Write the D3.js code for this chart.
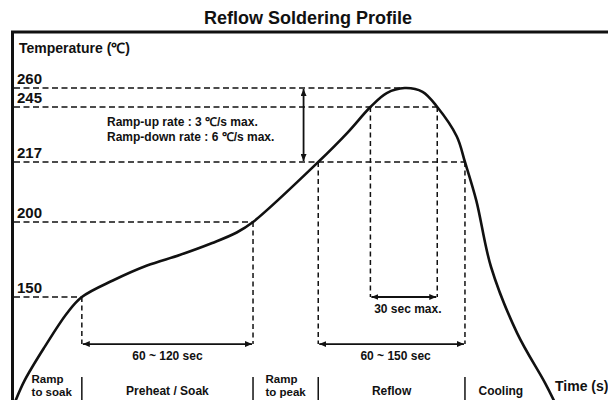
<!DOCTYPE html>
<html>
<head>
<meta charset="utf-8">
<script src="https://cdn.jsdelivr.net/npm/d3@7"></script>
<style>
    body { margin: 0; background: #fff; }
    svg text { font-family: "Liberation Sans", Arial, sans-serif; font-weight: bold; fill: #111; }
</style>
</head>
<body>
<div id="container"></div>
<script>

// Profile curve (time in s, temperature in degC).
const curveTime = [0, 6, 18, 32, 41, 60, 81, 101, 121, 136, 146, 186, 204, 218, 228, 239, 250, 259, 271, 276, 283, 292, 308, 325, 331];
const curveTemp = [25, 51, 90, 131, 150, 161, 171, 178, 186, 193, 200, 217, 232, 245, 256, 260, 257, 245, 230, 217, 206, 170, 107, 48, 25];

// Temperature marks and the time where each dashed guide meets the curve.
const tickTemps = [150, 200, 217, 245, 260];
const guideTime = [41, 146, 276, 259, 239];

// Duration arrows.
const spanStart = [41, 186, 218];
const spanEnd = [146, 276, 259];
const spanTopTemp = [150, 217, 245];
const spanTemp = [94, 94, 150];
const spanLabel = ['60 ~ 120 sec', '60 ~ 150 sec', '30 sec max.'];

// Phases along the time axis.
const phaseEdges = [4, 41, 146, 186, 276, 320];
const phaseNames = [['Ramp', 'to soak'], ['Preheat / Soak'], ['Ramp', 'to peak'], ['Reflow'], ['Cooling']];

// Ramp rate arrow.
const rateTime = 177;
const rateTemps = [260, 217];
const rateText = ['Ramp-up rate : 3 \u2103/s max.', 'Ramp-down rate : 6 \u2103/s max.'];

window.addEventListener('DOMContentLoaded', (event) => {

    const width = 608;
    const height = 400;

    const svg = d3.select('#container')
        .append('svg')
        .attr('width', width)
        .attr('height', height);

    const x = d3.scaleLinear()
        .domain([0, 330])
        .range([15, 553]);

    // The drawing is schematic, so the temperature axis is piecewise.
    const y = d3.scaleLinear()
        .domain([25, 150, 200, 217, 245, 260])
        .range([402, 297, 222, 162, 107, 88]);

    svg.append('defs')
        .append('marker')
        .attr('id', 'head')
        .attr('markerUnits', 'userSpaceOnUse')
        .attr('markerWidth', 8)
        .attr('markerHeight', 6)
        .attr('refX', 7)
        .attr('refY', 3)
        .attr('orient', 'auto-start-reverse')
        .append('path')
        .attr('d', 'M0,0 L7,3 L0,6 Z')
        .attr('fill', '#111');

    // Title.
    svg.append('text')
        .attr('x', 308)
        .attr('y', 24)
        .attr('text-anchor', 'middle')
        .style('font-size', '18px')
        .text('Reflow Soldering Profile');

    // Frame.
    svg.append('line')
        .attr('x1', 11).attr('y1', 32)
        .attr('x2', width).attr('y2', 32)
        .attr('stroke', '#111').attr('stroke-width', 3);

    svg.append('line')
        .attr('x1', 12.5).attr('y1', 31)
        .attr('x2', 12.5).attr('y2', height)
        .attr('stroke', '#111').attr('stroke-width', 3);

    svg.append('text')
        .attr('x', 19)
        .attr('y', 53)
        .style('font-size', '14px')
        .text('Temperature (\u2103)');

    // Horizontal dashed guides.
    svg.selectAll('.hguide')
        .data(tickTemps)
        .enter()
        .append('line')
        .attr('class', 'hguide')
        .attr('x1', 14)
        .attr('x2', (d, i) => x(guideTime[i]))
        .attr('y1', d => y(d))
        .attr('y2', d => y(d))
        .attr('stroke', '#111')
        .attr('stroke-width', 1.5)
        .attr('stroke-dasharray', '6,3.5');

    // Tick labels.
    const axis = svg.append('g')
        .attr('transform', 'translate(13,0)')
        .call(d3.axisRight(y).tickValues(tickTemps).tickSize(0).tickPadding(4));
    axis.select('.domain').remove();
    axis.selectAll('text')
        .attr('dy', -5)
        .style('font-size', '15px')
        .style('font-family', '"Liberation Sans", Arial, sans-serif')
        .style('fill', '#111');

    // Vertical dashed guides.
    const vguides = [];
    spanStart.forEach((s, i) => {
        vguides.push({ t: s, top: spanTopTemp[i], bottom: spanTemp[i] });
        vguides.push({ t: spanEnd[i], top: spanTopTemp[i], bottom: spanTemp[i] });
    });
    vguides[1].top = 200;
    vguides[3].top = 217;

    svg.selectAll('.vguide')
        .data(vguides)
        .enter()
        .append('line')
        .attr('class', 'vguide')
        .attr('x1', d => x(d.t))
        .attr('x2', d => x(d.t))
        .attr('y1', d => y(d.top))
        .attr('y2', d => y(d.bottom))
        .attr('stroke', '#111')
        .attr('stroke-width', 1.5)
        .attr('stroke-dasharray', '5,3.5');

    // Duration arrows and labels.
    svg.selectAll('.span')
        .data(spanLabel)
        .enter()
        .append('line')
        .attr('class', 'span')
        .attr('x1', (d, i) => x(spanStart[i]) + 1)
        .attr('x2', (d, i) => x(spanEnd[i]) - 1)
        .attr('y1', (d, i) => y(spanTemp[i]))
        .attr('y2', (d, i) => y(spanTemp[i]))
        .attr('stroke', '#111')
        .attr('stroke-width', 1.8)
        .attr('marker-start', 'url(#head)')
        .attr('marker-end', 'url(#head)');

    svg.selectAll('.spanlabel')
        .data(spanLabel)
        .enter()
        .append('text')
        .attr('class', 'spanlabel')
        .attr('x', (d, i) => (x(spanStart[i]) + x(spanEnd[i])) / 2 + (i > 0 ? 4 : 0))
        .attr('y', (d, i) => y(spanTemp[i]) + 16)
        .attr('text-anchor', 'middle')
        .style('font-size', '12px')
        .text(d => d);

    // Ramp rate arrow and note.
    svg.append('line')
        .attr('x1', x(rateTime)).attr('x2', x(rateTime))
        .attr('y1', y(rateTemps[0]) + 1).attr('y2', y(rateTemps[1]) - 1)
        .attr('stroke', '#111')
        .attr('stroke-width', 1.8)
        .attr('marker-start', 'url(#head)')
        .attr('marker-end', 'url(#head)');

    svg.selectAll('.rate')
        .data(rateText)
        .enter()
        .append('text')
        .attr('class', 'rate')
        .attr('x', 107)
        .attr('y', (d, i) => 126 + i * 15)
        .style('font-size', '12px')
        .text(d => d);

    // Profile curve.
    const line = d3.line()
        .x(d => x(d[0]))
        .y(d => y(d[1]))
        .curve(d3.curveCatmullRom.alpha(0.5));

    svg.append('path')
        .datum(d3.zip(curveTime, curveTemp))
        .attr('d', line)
        .attr('fill', 'none')
        .attr('stroke', '#111')
        .attr('stroke-width', 2.6);

    // Phase separators and names.
    svg.selectAll('.sep')
        .data(phaseEdges.slice(1, -1))
        .enter()
        .append('line')
        .attr('class', 'sep')
        .attr('x1', d => x(d))
        .attr('x2', d => x(d))
        .attr('y1', 377)
        .attr('y2', height)
        .attr('stroke', '#111')
        .attr('stroke-width', 1.5);

    phaseNames.forEach((lines, i) => {
        const mid = (x(phaseEdges[i]) + x(phaseEdges[i + 1])) / 2;
        const t = svg.append('text').style('font-size', '12px');
        if (lines.length === 1) {
            t.attr('x', mid).attr('y', 395).attr('text-anchor', 'middle').text(lines[0]);
        } else {
            t.style('font-size', '11.5px');
            let w = 0;
            lines.forEach((s, j) => {
                const span = t.append('tspan').attr('y', 382.5 + j * 13).text(s);
                w = Math.max(w, span.node().getComputedTextLength());
            });
            t.selectAll('tspan').attr('x', mid - w / 2);
        }
    });

    svg.append('text')
        .attr('x', 555)
        .attr('y', 391)
        .style('font-size', '14px')
        .text('Time (s)');

}); // end of document ready
</script>
</body>
</html>
